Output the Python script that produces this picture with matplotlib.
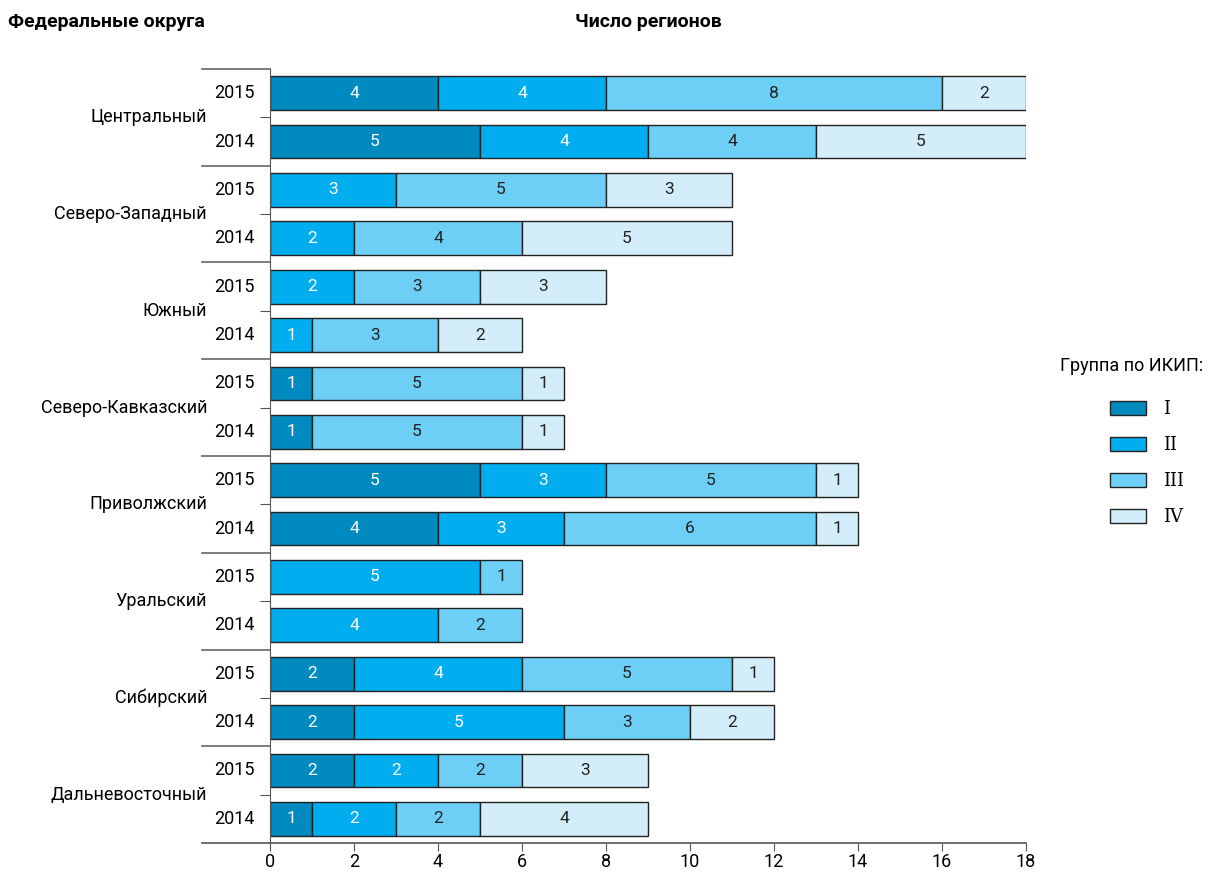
import matplotlib
matplotlib.use("Agg")
import matplotlib.pyplot as plt
from matplotlib.patches import Patch
import numpy as np

plt.rcParams['font.family'] = ['Roboto', 'DejaVu Sans']

districts = ["Центральный", "Северо-Западный", "Южный", "Северо-Кавказский",
             "Приволжский", "Уральский", "Сибирский", "Дальневосточный"]
years = ["2015", "2014"]
groups = ["I", "II", "III", "IV"]

# values per group, rows ordered: district1 2015, district1 2014, district2 2015 ...
group_I = [4, 5, 0, 0, 0, 0, 1, 1, 5, 4, 0, 0, 2, 2, 2, 1]
group_II = [4, 4, 3, 2, 2, 1, 0, 0, 3, 3, 5, 4, 4, 5, 2, 2]
group_III = [8, 4, 5, 4, 3, 3, 5, 5, 5, 6, 1, 2, 5, 3, 2, 2]
group_IV = [2, 5, 3, 5, 3, 2, 1, 1, 1, 1, 0, 0, 1, 2, 3, 4]

colors = ["#008abf", "#00aeef", "#6dcff6", "#d3eefa"]
text_colors = ["white", "white", "#222222", "#222222"]

fig = plt.figure(figsize=(12.09, 8.72), dpi=100)
ax = fig.add_axes([270 / 1209, 1 - 843 / 872, 756 / 1209, 774 / 872])

rows = np.arange(len(group_I))
left = np.zeros(len(rows))
for vals, col, tcol in zip([group_I, group_II, group_III, group_IV], colors, text_colors):
    vals = np.array(vals)
    for y, v, l in zip(rows, vals, left):
        if v == 0:
            continue
        ax.barh(y, v, left=l, height=0.7, color=col, edgecolor="#222222", linewidth=1)
        ax.text(l + v / 2, y, str(v), ha="center", va="center", color=tcol, fontsize=12.5)
    left += vals

ax.set_xlim(0, 18)
ax.set_ylim(15.5, -0.5)
ax.set_xticks(range(0, 19, 2))
ax.tick_params(axis="x", labelsize=13, length=6, color="#555555", pad=1)
ax.set_yticks([2 * i + 0.5 for i in range(len(districts))])
ax.set_yticklabels([])
ax.tick_params(axis="y", length=7, color="#555555")

for s in ["top", "right"]:
    ax.spines[s].set_visible(False)
ax.spines["left"].set_color("#555555")
ax.spines["bottom"].set_color("#555555")
ax.spines["bottom"].set_linewidth(1.2)

x_ext = -68 / 756
# separators between districts and extended bottom line
for i in range(len(districts)):
    yb = 2 * i - 0.5
    ax.plot([x_ext, 0], [yb, yb], transform=ax.get_yaxis_transform(), color="#666666",
            lw=1.2, clip_on=False)
ax.plot([x_ext, 0], [15.5, 15.5], transform=ax.get_yaxis_transform(), color="#555555",
        lw=1.2, clip_on=False)

for i, d in enumerate(districts):
    ax.text(-63 / 756, 2 * i + 0.5, d, transform=ax.get_yaxis_transform(),
            ha="right", va="center", fontsize=13)
    for j, yr in enumerate(years):
        ax.text(-15 / 756, 2 * i + j, yr, transform=ax.get_yaxis_transform(),
                ha="right", va="center", fontsize=13)

fig.text(8 / 1209, 1 - 22 / 872, "Федеральные округа", fontsize=14, fontweight="bold",
         ha="left", va="center")
fig.text(648 / 1209, 1 - 22 / 872, "Число регионов", fontsize=14, fontweight="bold",
         ha="center", va="center")

fig.text(1060 / 1209, 1 - 366 / 872, "Группа по ИКИП:", fontsize=13,
         ha="left", va="center")
handles = [Patch(facecolor=c, edgecolor="#222222", linewidth=1) for c in colors]
leg = fig.legend(handles, groups, loc="upper left", bbox_to_anchor=(1103 / 1209, 1 - 393 / 872),
                 frameon=False, prop={"family": "DejaVu Serif", "size": 13},
                 handlelength=2.0, handleheight=0.8, handletextpad=0.9,
                 labelspacing=1.0, borderaxespad=0)

fig.savefig("out.png", dpi=100)
